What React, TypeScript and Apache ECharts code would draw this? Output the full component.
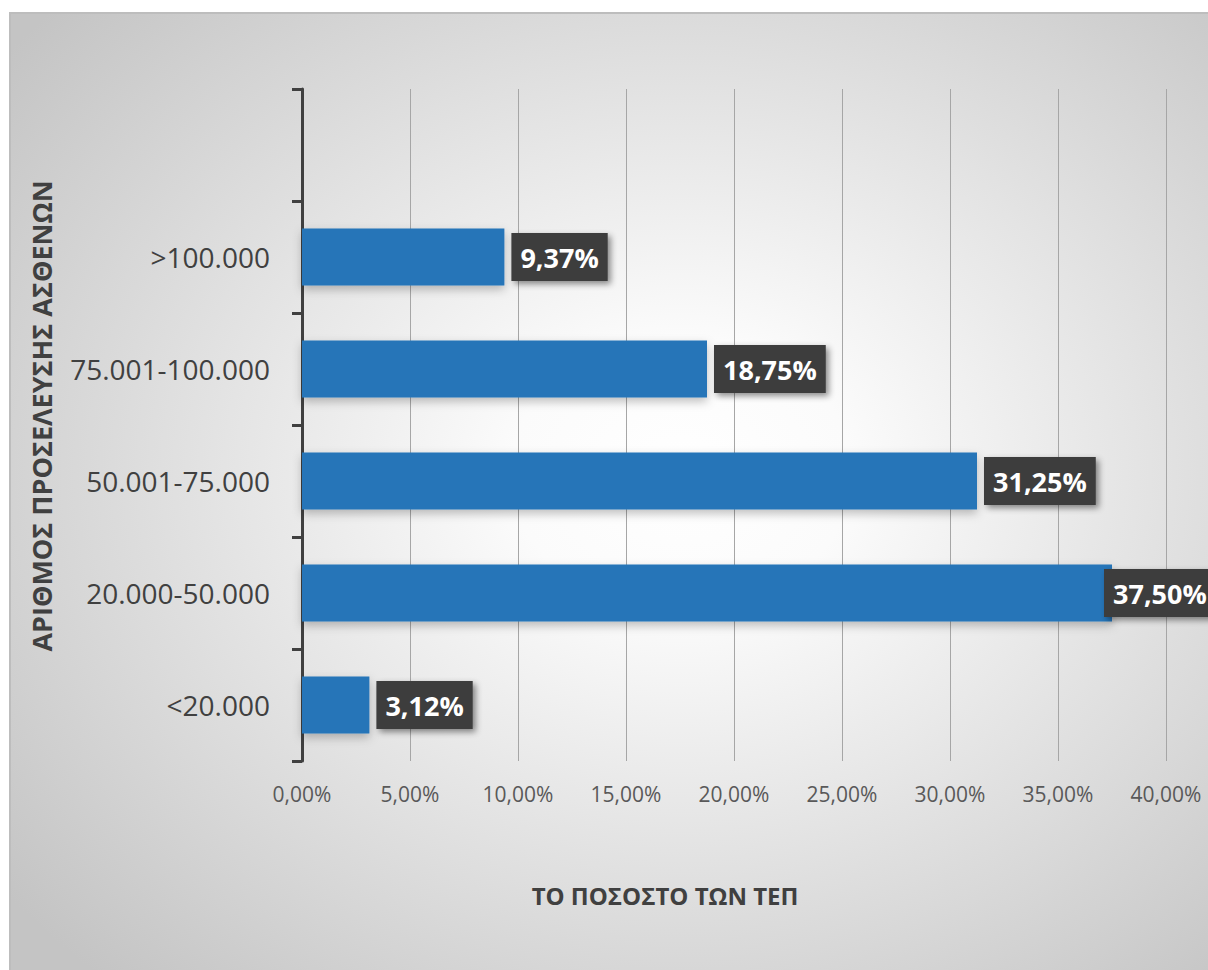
import React, { useEffect, useRef } from "react";
import * as echarts from "echarts";

const categories = ["<20.000", "20.000-50.000", "50.001-75.000", "75.001-100.000", ">100.000", ""];
const values: (number | null)[] = [3.12, 37.5, 31.25, 18.75, 9.37, null];
const xMin = 0;
const xMax = 40;
const xInterval = 5;
const xAxisTitle = "ΤΟ ΠΟΣΟΣΤΟ ΤΩΝ ΤΕΠ";
const yAxisTitle = "ΑΡΙΘΜΟΣ ΠΡΟΣΕΛΕΥΣΗΣ ΑΣΘΕΝΩΝ";

const fmt = (v: number) => v.toFixed(2).replace(".", ",") + "%";

export default function App() {
  const ref = useRef<HTMLDivElement>(null);
  useEffect(() => {
    if (!ref.current) return;
    const chart = echarts.init(ref.current, undefined, { renderer: "svg" });
    const font = "'Open Sans', 'Noto Sans', sans-serif";
    chart.setOption({
      animation: false,
      graphic: [
        {
          type: "rect",
          z: -10,
          silent: true,
          shape: { x: 10, y: 13, width: 1220, height: 980 },
          style: {
            fill: {
              type: "radial",
              x: 0.55,
              y: 0.47,
              r: 0.7,
              colorStops: [
                { offset: 0, color: "#ffffff" },
                { offset: 0.2, color: "#fbfbfb" },
                { offset: 1, color: "#c4c4c4" },
              ],
            },
            stroke: "#bdbdbd",
            lineWidth: 2,
          },
        },
        {
          type: "text",
          x: 665,
          y: 895,
          style: {
            text: xAxisTitle,
            fontFamily: font,
            fontSize: 24,
            fontWeight: "bold",
            fill: "#404040",
            textAlign: "center",
            textVerticalAlign: "middle",
          },
        },
        {
          type: "text",
          x: 41,
          y: 416,
          rotation: Math.PI / 2,
          style: {
            text: yAxisTitle,
            fontFamily: font,
            fontSize: 27,
            fontWeight: "bold",
            fill: "#404040",
            textAlign: "center",
            textVerticalAlign: "middle",
          },
        },
      ],
      grid: { left: 302, right: 42, top: 89, bottom: 209, containLabel: false },
      xAxis: {
        type: "value",
        min: xMin,
        max: xMax,
        interval: xInterval,
        axisLine: { show: false },
        axisTick: { show: false },
        splitLine: { show: true, lineStyle: { color: "#a6a6a6", width: 1 } },
        axisLabel: {
          formatter: (v: number) => fmt(v),
          fontFamily: font,
          fontSize: 21,
          color: "#595959",
          margin: 22,
        },
      },
      yAxis: {
        type: "category",
        data: categories,
        axisLine: { show: true, lineStyle: { color: "#404040", width: 3 } },
        axisTick: { show: true, length: 10, lineStyle: { color: "#404040", width: 3 } },
        splitLine: { show: false },
        axisLabel: {
          fontFamily: font,
          fontSize: 28,
          color: "#404040",
          margin: 32,
        },
      },
      series: [
        {
          type: "bar",
          barWidth: 57,
          data: values.map((v) =>
            v !== null && v > 35
              ? { value: v, label: { offset: [-15, 0] } }
              : v
          ),
          itemStyle: {
            color: "#2574b8",
            shadowBlur: 10,
            shadowOffsetY: 4,
            shadowColor: "rgba(0,0,0,0.25)",
          },
          label: {
            show: true,
            position: "right",
            distance: 7,
            formatter: (p: any) => fmt(p.value),
            fontFamily: font,
            fontSize: 27,
            fontWeight: "bold",
            color: "#ffffff",
            backgroundColor: "#3d3d3d",
            padding: [8, 9, 8, 9],
            lineHeight: 32,
            shadowBlur: 6,
            shadowOffsetX: 3,
            shadowOffsetY: 3,
            shadowColor: "rgba(0,0,0,0.45)",
          },
        },
      ],
    });
    return () => chart.dispose();
  }, []);
  return (
    <div
      ref={ref}
      style={{ position: "absolute", left: 0, top: 0, width: 1208, height: 970, background: "#ffffff" }}
    />
  );
}
